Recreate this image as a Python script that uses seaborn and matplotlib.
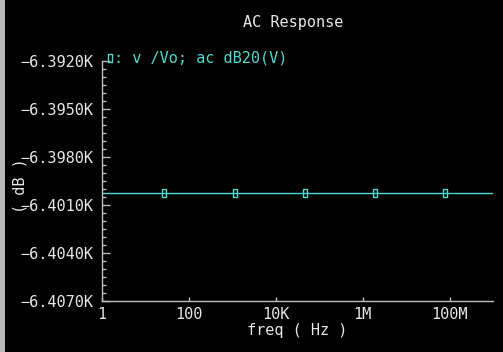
import numpy as np
import pandas as pd
import matplotlib
matplotlib.use("Agg")
import matplotlib.pyplot as plt
from matplotlib.lines import Line2D
from matplotlib.ticker import FixedLocator, MultipleLocator, NullLocator
import seaborn as sns

# ---- data ----
freq = [1.0, 1e9]
gain_db = [-6400.25, -6400.25]
marker_freq = [10**1.43, 10**3.06, 10**4.67, 10**6.28, 10**7.90]
marker_gain = [-6400.25] * 5
y_ticks = [-6392.0, -6395.0, -6398.0, -6401.0, -6404.0, -6407.0]
y_tick_labels = ["\u22126.3920K", "\u22126.3950K", "\u22126.3980K",
                 "\u22126.4010K", "\u22126.4040K", "\u22126.4070K"]
x_ticks = [1, 1e2, 1e4, 1e6, 1e8]
x_tick_labels = ["1", "100", "10K", "1M", "100M"]

sns.set_style("dark")
plt.rcParams['font.family'] = ['DejaVu Sans Mono', 'DejaVu Sans']

CY = "#4fd9cf"
FG = "#e6e6e6"
FS = 11

fig = plt.figure(figsize=(5.03, 3.52), dpi=100, facecolor="black")
ax = fig.add_axes([102/503, 1-301/352, (493-102)/503, (301-61)/352])
ax.set_facecolor("black")

df = pd.DataFrame({"freq": freq, "gain": gain_db})
dm = pd.DataFrame({"freq": marker_freq, "gain": marker_gain})
sns.lineplot(data=df, x="freq", y="gain", ax=ax, color=CY, linewidth=1.0)
rect = [(-1, -2.5), (1, -2.5), (1, 2.5), (-1, 2.5), (-1, -2.5)]
sns.scatterplot(data=dm, x="freq", y="gain", ax=ax, marker=rect, s=40,
                facecolor="none", edgecolor=CY, linewidth=1.0, zorder=3)

ax.set_xscale("log")
ax.set_xlim(1, 1e9)
ax.set_ylim(-6407, -6392)
ax.xaxis.set_major_locator(FixedLocator(x_ticks))
ax.set_xticklabels(x_tick_labels)
ax.xaxis.set_minor_locator(NullLocator())
ax.yaxis.set_major_locator(FixedLocator(y_ticks))
ax.set_yticklabels(y_tick_labels)
ax.yaxis.set_minor_locator(MultipleLocator(0.5))
ax.grid(False)

for s in ["top", "right"]:
    ax.spines[s].set_visible(False)
for s in ["left", "bottom"]:
    ax.spines[s].set_color("#bdbdbd")
    ax.spines[s].set_linewidth(1.0)

ax.tick_params(axis="y", which="major", direction="in", length=6, width=1,
               color="#bdbdbd", labelcolor=FG, labelsize=FS, pad=6, left=True)
ax.tick_params(axis="y", which="minor", direction="in", length=3, width=1,
               color="#bdbdbd", left=True)
ax.tick_params(axis="x", which="major", direction="in", length=3, width=1,
               color="#bdbdbd", labelcolor=FG, labelsize=FS, pad=4, bottom=True)

ax.set_xlabel("freq ( Hz )", color=FG, fontsize=FS, labelpad=1)
ax.set_ylabel("( dB )", color=FG, fontsize=FS)
ax.yaxis.set_label_coords(-0.19, 0.48)

fig.text(293/503, 1-23/352, "AC Response", color=FG, fontsize=FS,
         ha="center", va="center")
fig.add_artist(Line2D([110/503], [1-58/352], marker=rect, markersize=6,
                      markerfacecolor="none", markeredgecolor=CY,
                      markeredgewidth=1.0, linestyle="none",
                      transform=fig.transFigure))
fig.text(114/503, 1-58/352, ": v /Vo; ac dB20(V)", color=CY, fontsize=FS,
         ha="left", va="center")

# window frame strip at left
fig.patches.append(plt.Rectangle((0, 0), 5/503, 1, transform=fig.transFigure,
                                 facecolor="#b8b8b8", edgecolor="none"))

fig.savefig("out.png", dpi=100, facecolor="black")
